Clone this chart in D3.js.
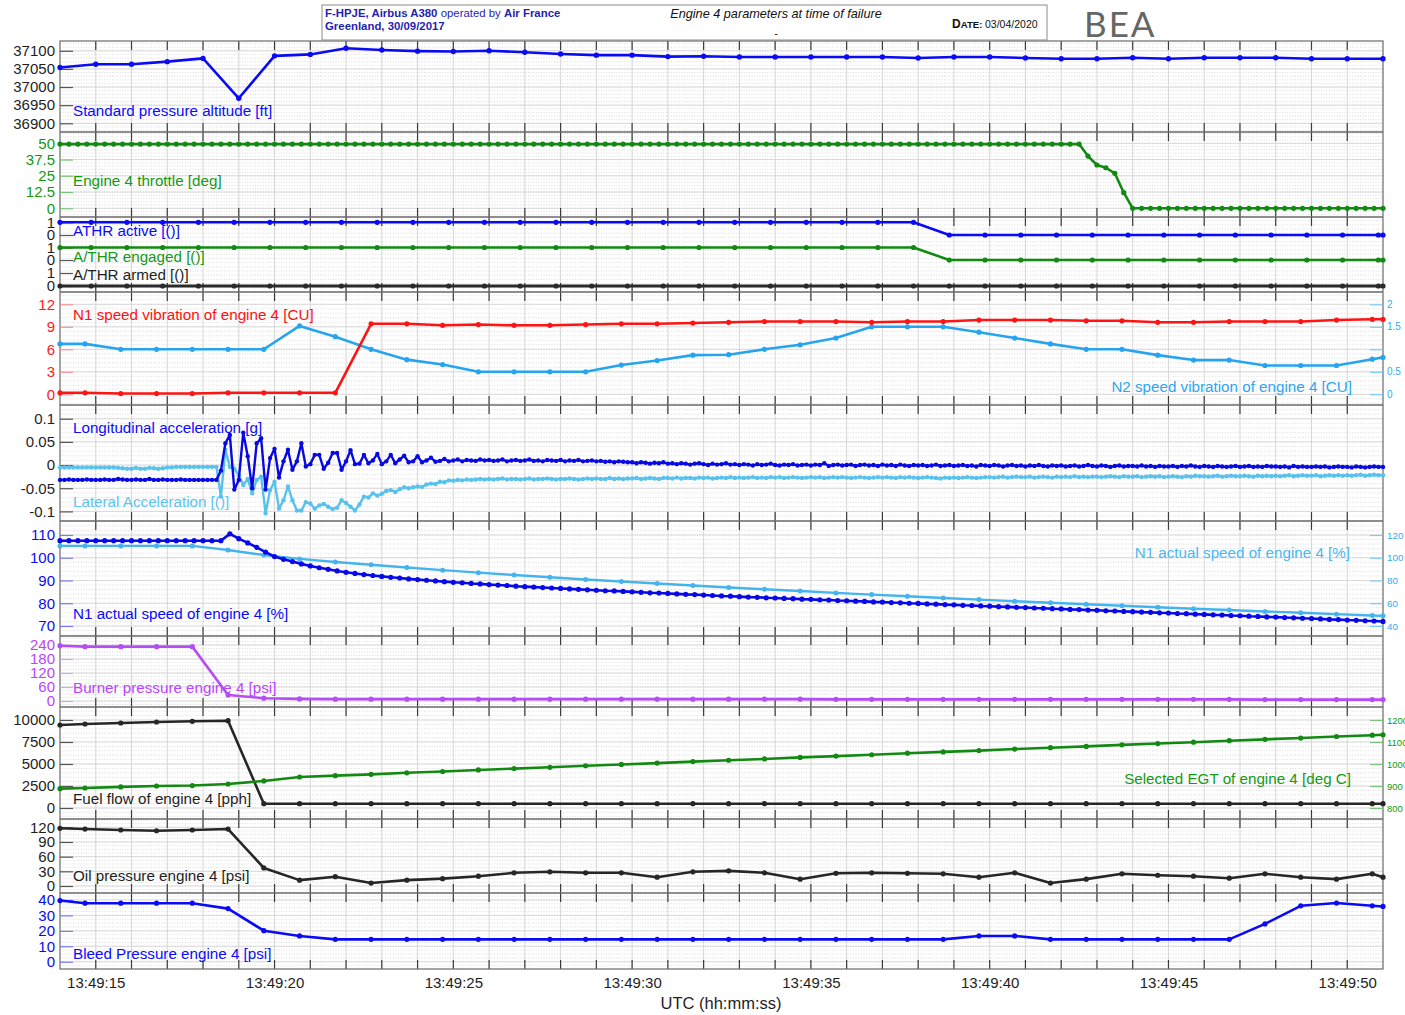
<!DOCTYPE html>
<html><head><meta charset="utf-8">
<script src="https://cdn.jsdelivr.net/npm/d3@7"></script>
<style>body{margin:0;background:#fff}svg{display:block}</style>
</head><body><svg id="c" width="1405" height="1015"></svg>
<script>
// ---------------- DATA ----------------
const xTickTimes=[15,20,25,30,35,40,45,50];
const xTickLabels=["13:49:15","13:49:20","13:49:25","13:49:30","13:49:35","13:49:40","13:49:45","13:49:50"];

const altTimes=[14,15,16,17,18,19,20,21,22,23,24,25,26,27,28,29,30,31,32,33,34,35,36,37,38,39,40,41,42,43,44,45,46,47,48,49,50,51];
const altitude=[37054,37063,37063,37070,37079,36969,37086,37090,37107,37102,37099,37098,37100,37096,37091,37088,37088,37084,37085,37083,37083,37083,37083,37083,37080,37083,37083,37080,37078,37078,37081,37078,37081,37081,37081,37078,37078,37078];
const altTicks=[36900,36950,37000,37050,37100];

// 4 Hz series (t = 14.00 ... 51.00)
const throttle=[
49.4,49.4,49.4,49.4,49.4,49.4,49.4,49.4,49.4,49.4,49.4,49.4,49.4,49.4,49.4,49.4,49.4,49.4,49.4,49.4,
49.4,49.4,49.4,49.4,49.4,49.4,49.4,49.4,49.4,49.4,49.4,49.4,49.4,49.4,49.4,49.4,49.4,49.4,49.4,49.4,
49.4,49.4,49.4,49.4,49.4,49.4,49.4,49.4,49.4,49.4,49.4,49.4,49.4,49.4,49.4,49.4,49.4,49.4,49.4,49.4,
49.4,49.4,49.4,49.4,49.4,49.4,49.4,49.4,49.4,49.4,49.4,49.4,49.4,49.4,49.4,49.4,49.4,49.4,49.4,49.4,
49.4,49.4,49.4,49.4,49.4,49.4,49.4,49.4,49.4,49.4,49.4,49.4,49.4,49.4,49.4,49.4,49.4,49.4,49.4,49.4,
49.4,49.4,49.4,49.4,49.4,49.4,49.4,49.4,49.4,49.4,49.4,49.4,49.4,49.4,49.4,
40.2,33.3,31.2,26.9,12.0,
0,0,0,0,0,0,0,0,0,0,0,0,0,0,0,0,0,0,0,0,0,0,0,0,0,0,0,0,0];
const throttleTicks=[0,12.5,25,37.5,50];

const n1Actual=[
107.5,107.5,107.5,107.5,107.5,107.5,107.5,107.5,107.5,107.5,107.5,107.5,107.5,107.5,107.5,107.5,107.5,107.5,107.5,
110.5,108.4,106.5,104.6,102.5,100.5,99.3,98.3,97.3,96.4,95.6,94.9,94.2,93.6,93.1,92.6,92.2,91.8,91.4,91.1,90.7,90.4,90.1,89.8,89.5,89.2,
89.0,88.7,88.5,88.2,88.0,87.8,87.5,87.3,87.1,86.9,86.7,86.5,86.3,86.1,85.9,85.7,
85.5,85.4,85.2,85.0,84.8,84.6,84.5,84.3,84.1,83.9,83.8,83.6,83.4,83.2,83.1,82.9,
82.7,82.6,82.4,82.3,82.1,82.0,81.8,81.7,81.5,81.4,81.2,81.1,80.9,80.8,80.6,80.5,
80.3,80.2,80.0,79.9,79.7,79.6,79.4,79.3,79.1,79.0,78.8,78.7,78.5,78.4,78.2,78.1,
77.9,77.8,77.6,77.5,77.3,77.2,77.0,76.9,76.7,76.6,76.4,76.3,76.1,76.0,75.8,75.7,
75.5,75.4,75.2,75.1,74.9,74.8,74.6,74.5,74.3,74.2,74.0,73.9,73.7,73.6,73.4,73.3,
73.1,72.9,72.8,72.6,72.5,72.3,72.2,72.0];
const n1Ticks=[70,80,90,100,110];
const n1RightTicks=[40,60,80,100,120];

// 8 Hz accelerations (one row per second, t = 14.000 ... 51.000)
const longAcc=[
-0.032,-0.032,-0.031,-0.032,-0.032,-0.032,-0.031,-0.032,
-0.032,-0.032,-0.031,-0.032,-0.032,-0.03,-0.031,-0.032,
-0.032,-0.031,-0.032,-0.032,-0.03,-0.032,-0.032,-0.031,
-0.032,-0.032,-0.032,-0.031,-0.032,-0.032,-0.032,-0.032,
-0.032,-0.032,-0.032,-0.032,-0.012,0.047,0.065,-0.053,
-0.032,0.07,0.019,-0.05,0.047,0.058,-0.053,0.015,
0.035,-0.027,0.008,0.033,-0.01,0.008,0.047,-0.003,
0.002,0.022,0.022,-0.008,0.005,0.026,0.026,-0.01,
0.008,0.032,0.002,0.003,0.022,0.004,0.01,0.024,
0.002,0.008,0.022,0.004,0.012,0.02,0.006,0.008,
0.019,0.006,0.01,0.016,0.007,0.009,0.013,0.008,
0.01,0.012,0.008,0.011,0.01,0.009,0.012,0.01,
0.011,0.009,0.01,0.012,0.008,0.01,0.011,0.009,
0.01,0.012,0.009,0.01,0.008,0.011,0.01,0.009,
0.011,0.008,0.01,0.009,0.011,0.008,0.009,0.01,
0.008,0.009,0.007,0.008,0.006,0.008,0.007,0.006,
0.006,0.004,0.006,0.005,0.003,0.005,0.004,0.006,
0.003,0.004,0.002,0.004,0.003,0.001,0.003,0.004,
0.002,0.0,0.003,0.001,0.002,0.004,0.001,0.002,
0.0,0.002,0.001,-0.001,0.002,0.0,0.001,0.003,
0.0,-0.001,0.001,0.0,0.002,-0.001,0.0,0.001,
-0.001,0.001,0.0,0.004,-0.002,0.0,0.001,-0.001,
0.0,0.001,-0.002,0.0,0.001,-0.001,0.0,-0.002,
0.001,-0.001,0.0,-0.002,0.001,-0.001,-0.002,0.0,
-0.001,0.0,-0.002,-0.001,0.001,-0.002,-0.001,0.0,
-0.002,-0.001,0.0,-0.002,-0.001,-0.003,0.0,-0.001,
-0.002,0.0,-0.001,-0.003,-0.001,0.0,-0.002,-0.001,
-0.003,-0.001,-0.002,0.0,-0.002,-0.003,-0.001,-0.002,
-0.001,-0.003,-0.002,-0.001,-0.003,-0.002,0.0,-0.002,
-0.003,-0.001,-0.002,-0.004,-0.002,-0.001,-0.003,-0.002,
-0.002,-0.003,-0.001,-0.003,-0.002,-0.004,-0.002,-0.003,
-0.003,-0.002,-0.004,-0.002,-0.003,-0.001,-0.003,-0.004,
-0.002,-0.003,-0.004,-0.002,-0.003,-0.004,-0.003,-0.002,
-0.004,-0.003,-0.002,-0.004,-0.003,-0.004,-0.002,-0.003,
-0.003,-0.004,-0.003,-0.005,-0.002,-0.004,-0.003,-0.004,
-0.004,-0.003,-0.004,-0.003,-0.005,-0.004,-0.003,-0.004,
-0.004,-0.005,-0.003,-0.004,-0.005,-0.004,-0.003,-0.004,
-0.004];
const latAcc=[
-0.005,-0.005,-0.005,-0.005,-0.005,-0.005,-0.005,-0.005,
-0.005,-0.005,-0.005,-0.005,-0.005,-0.006,-0.007,-0.008,
-0.008,-0.006,-0.008,-0.008,-0.006,-0.007,-0.008,-0.007,
-0.005,-0.005,-0.004,-0.004,-0.004,-0.004,-0.004,-0.004,
-0.004,-0.004,-0.004,-0.004,-0.068,0.033,-0.004,-0.008,
-0.022,-0.043,-0.03,-0.061,-0.032,-0.025,-0.104,-0.054,
-0.036,-0.094,-0.076,-0.046,-0.076,-0.098,-0.098,-0.08,
-0.083,-0.094,-0.087,-0.084,-0.09,-0.095,-0.092,-0.076,
-0.082,-0.09,-0.098,-0.085,-0.068,-0.07,-0.061,-0.066,
-0.062,-0.056,-0.054,-0.058,-0.052,-0.048,-0.05,-0.048,
-0.046,-0.047,-0.042,-0.04,-0.041,-0.036,-0.037,-0.033,
-0.034,-0.032,-0.033,-0.031,-0.032,-0.031,-0.03,-0.031,
-0.03,-0.031,-0.03,-0.029,-0.031,-0.03,-0.03,-0.031,
-0.03,-0.029,-0.031,-0.03,-0.03,-0.029,-0.03,-0.031,
-0.03,-0.03,-0.029,-0.03,-0.031,-0.03,-0.029,-0.03,
-0.029,-0.03,-0.03,-0.028,-0.03,-0.029,-0.03,-0.029,
-0.029,-0.028,-0.03,-0.029,-0.028,-0.029,-0.03,-0.028,
-0.028,-0.029,-0.027,-0.029,-0.028,-0.028,-0.029,-0.027,
-0.028,-0.027,-0.029,-0.028,-0.027,-0.028,-0.026,-0.028,
-0.027,-0.028,-0.027,-0.026,-0.028,-0.027,-0.028,-0.026,
-0.027,-0.026,-0.028,-0.027,-0.026,-0.027,-0.028,-0.027,
-0.026,-0.027,-0.026,-0.028,-0.027,-0.026,-0.027,-0.026,
-0.027,-0.028,-0.027,-0.026,-0.027,-0.028,-0.027,-0.026,
-0.027,-0.026,-0.027,-0.028,-0.026,-0.027,-0.026,-0.027,
-0.028,-0.027,-0.026,-0.027,-0.028,-0.029,-0.027,-0.028,
-0.027,-0.028,-0.027,-0.026,-0.027,-0.028,-0.027,-0.026,
-0.026,-0.027,-0.026,-0.025,-0.027,-0.026,-0.025,-0.026,
-0.026,-0.025,-0.027,-0.026,-0.025,-0.026,-0.027,-0.025,
-0.026,-0.025,-0.026,-0.024,-0.026,-0.025,-0.026,-0.025,
-0.025,-0.026,-0.025,-0.024,-0.025,-0.026,-0.024,-0.025,
-0.025,-0.024,-0.026,-0.025,-0.024,-0.025,-0.024,-0.026,
-0.025,-0.024,-0.025,-0.026,-0.024,-0.025,-0.023,-0.024,
-0.024,-0.025,-0.024,-0.023,-0.025,-0.024,-0.023,-0.024,
-0.024,-0.023,-0.024,-0.025,-0.023,-0.024,-0.023,-0.024,
-0.023,-0.024,-0.023,-0.022,-0.024,-0.023,-0.022,-0.023,
-0.023,-0.022,-0.024,-0.023,-0.022,-0.023,-0.022,-0.023,
-0.022,-0.023,-0.022,-0.021,-0.023,-0.022,-0.021,-0.022,
-0.022];
const accTicks=[-0.1,-0.05,0,0.05,0.1];

// discrete parameters (1 Hz)
const discTimes=[14,14.87,15.87,16.87,17.87,18.87,19.87,20.87,21.87,22.87,23.87,24.87,25.87,26.87,27.87,28.87,29.87,30.87,31.87,32.87,33.87,34.87,35.87,36.87,37.87,38.87,39.87,40.87,41.87,42.87,43.87,44.87,45.87,46.87,47.87,48.87,49.87,50.87,51];
const athrActive=[1,1,1,1,1,1,1,1,1,1,1,1,1,1,1,1,1,1,1,1,1,1,1,1,1,0,0,0,0,0,0,0,0,0,0,0,0,0,0];
const athrEngaged=[1,1,1,1,1,1,1,1,1,1,1,1,1,1,1,1,1,1,1,1,1,1,1,1,1,0,0,0,0,0,0,0,0,0,0,0,0,0,0];
const athrArmed=[0,0,0,0,0,0,0,0,0,0,0,0,0,0,0,0,0,0,0,0,0,0,0,0,0,0,0,0,0,0,0,0,0,0,0,0,0,0,0];

// 1 Hz engine parameters
const slowTimes=[14,14.7,15.7,16.7,17.7,18.7,19.7,20.7,21.7,22.7,23.7,24.7,25.7,26.7,27.7,28.7,29.7,30.7,31.7,32.7,33.7,34.7,35.7,36.7,37.7,38.7,39.7,40.7,41.7,42.7,43.7,44.7,45.7,46.7,47.7,48.7,49.7,50.7,51];
const n1Vib=[0.2,0.2,0.1,0.1,0.1,0.2,0.2,0.2,0.2,9.4,9.4,9.2,9.3,9.2,9.2,9.3,9.4,9.4,9.5,9.6,9.7,9.7,9.7,9.6,9.7,9.7,9.9,9.9,9.9,9.8,9.8,9.6,9.6,9.7,9.7,9.7,9.9,10.0,10.0];
const n2Vib=[1.12,1.12,1.0,1.0,1.0,1.0,1.0,1.52,1.28,1.0,0.77,0.66,0.5,0.5,0.5,0.5,0.65,0.75,0.87,0.88,1.0,1.1,1.25,1.5,1.5,1.5,1.38,1.25,1.12,1.0,1.0,0.87,0.76,0.76,0.64,0.64,0.64,0.78,0.82];
const vibTicks=[0,3,6,9,12];
const vibRightTicks=[0,0.5,1,1.5,2];
const vibRightLabels=["0","0.5","","1.5","2"];
const n1ActualRight=[110.4,110.4,110.4,110.4,110.4,106.8,102.4,99,96.3,93.8,91.4,89.1,86.9,84.8,82.8,80.9,79.1,77.3,75.6,73.9,72.3,70.7,69.1,67.6,66.1,64.6,63.2,61.8,60.4,59.1,57.8,56.5,55.2,54,52.8,51.6,50.4,49.2,48.9];
const burner=[237,233,233,233,233,26,12,9,8,8,8,8,8,8,8,8,8,8,8,8,8,8,7,7,7,7,7,7,7,7,7,7,7,7,6,6,6,6,6];
const burnerTicks=[0,60,120,180,240];
const fuelFlow=[9430,9545,9660,9770,9850,9920,490,490,490,490,490,490,490,490,490,490,490,490,490,490,490,490,490,490,490,490,490,490,490,490,490,490,490,490,490,490,490,490,490];
const fuelTicks=[0,2500,5000,7500,10000];
const egt=[888,891,896,900,902,909,923,941,947,953,960,966,973,979,985,992,998,1004,1011,1017,1023,1030,1036,1042,1049,1055,1061,1068,1074,1080,1087,1093,1099,1106,1112,1118,1125,1131,1133];
const egtTicks=[800,900,1000,1100,1200];
const oilPress=[118,116.5,114.5,113,114.5,116.5,37,12,19,6,12,15,20,27,29,27,27,18,29,31,27,14,26,27,26,25,18,27,6,14,25,22,20,16,25,18,14,25,18];
const oilTicks=[0,30,60,90,120];
const bleedPress=[39.6,37.9,37.9,37.9,37.9,34.4,20.1,16.7,14.5,14.5,14.5,14.5,14.5,14.5,14.5,14.5,14.5,14.5,14.5,14.5,14.5,14.5,14.5,14.5,14.5,14.5,16.7,16.7,14.5,14.5,14.5,14.5,14.5,14.5,24.5,36.2,38,36.2,35.8];
const bleedTicks=[0,10,20,30,40];

// ---------------- DRAWING ----------------
const FONT='"Liberation Sans", Arial, Helvetica, sans-serif';
const svg=d3.select('#c');
svg.append('rect').attr('width',1405).attr('height',1015).attr('fill','#fff');
const X0=60,X1=1383,YT=41,YB=969;
const x=d3.scaleLinear().domain([14,51]).range([X0,X1]);
const fastTimes=d3.range(throttle.length).map(i=>14+i*0.25);
const accTimes=d3.range(longAcc.length).map(i=>14+i*0.125);

const C={blue:'#0a0af5',green:'#128a12',red:'#ff1414',lb:'#27a4ef',lb2:'#58c2ec',purple:'#b64cf4',black:'#262626'};

const P=[
 {t:41,b:132,s:d3.scaleLinear().domain([36876,37127]).range([132,41]),minor:10},
 {t:132,b:217,s:d3.scaleLinear().domain([-6.7,58.7]).range([217,132]),minor:2.5},
 {t:217,b:292,s:d3.scaleLinear().domain([0,75]).range([292,217]),minor:4.2},
 {t:292,b:405,s:d3.scaleLinear().domain([-1.43,13.64]).range([405,292]),minor:0.6},
 {t:405,b:521,s:d3.scaleLinear().domain([-0.1207,0.1296]).range([521,405]),minor:0.01},
 {t:521,b:636,s:d3.scaleLinear().domain([65.6,116.15]).range([636,521]),minor:2},
 {t:636,b:707,s:d3.scaleLinear().domain([-25.7,278.6]).range([707,636]),minor:15},
 {t:707,b:819,s:d3.scaleLinear().domain([-1250,11477]).range([819,707]),minor:500},
 {t:819,b:893,s:d3.scaleLinear().domain([-14.3,137]).range([893,819]),minor:7.5},
 {t:893,b:969,s:d3.scaleLinear().domain([-4.7,44.5]).range([969,893]),minor:2.5}
];
const majors=[altTicks,throttleTicks,[],vibTicks,accTicks,n1Ticks,burnerTicks,fuelTicks,oilTicks,bleedTicks];

const grid=svg.append('g');
P.forEach((p,i)=>{
  const d=p.s.domain();
  const vals=d3.range(Math.ceil(d[0]/p.minor)*p.minor,d[1],p.minor);
  grid.selectAll(null).data(vals).enter().append('line')
    .attr('x1',X0).attr('x2',X1).attr('y1',v=>p.s(v)).attr('y2',v=>p.s(v))
    .attr('stroke','#c4c4c4').attr('stroke-width',0.6).attr('stroke-dasharray','1,1.6');
  grid.selectAll(null).data(majors[i]).enter().append('line')
    .attr('x1',X0).attr('x2',X1).attr('y1',v=>p.s(v)).attr('y2',v=>p.s(v))
    .attr('stroke','#d6d6d6').attr('stroke-width',0.9);
});
const secs=d3.range(15,51);
grid.selectAll(null).data(secs).enter().append('line')
  .attr('x1',d=>x(d)).attr('x2',d=>x(d)).attr('y1',YT).attr('y2',YB)
  .attr('stroke','#d2d2d2').attr('stroke-width',0.9);
P.forEach(p=>{
  grid.selectAll(null).data(secs).enter().append('line')
    .attr('x1',d=>x(d)).attr('x2',d=>x(d)).attr('y1',p.t).attr('y2',p.t+9)
    .attr('stroke','#3a3a3a').attr('stroke-width',1.2);
  grid.selectAll(null).data(secs).enter().append('line')
    .attr('x1',d=>x(d)).attr('x2',d=>x(d)).attr('y1',p.b-9).attr('y2',p.b)
    .attr('stroke','#3a3a3a').attr('stroke-width',1.2);
});
grid.selectAll(null).data(P.slice(1)).enter().append('line')
  .attr('x1',X0).attr('x2',X1).attr('y1',p=>p.t).attr('y2',p=>p.t)
  .attr('stroke','#6a6a6a').attr('stroke-width',1.3);
grid.append('rect').attr('x',X0).attr('y',YT).attr('width',X1-X0).attr('height',YB-YT)
  .attr('fill','none').attr('stroke','#6a6a6a').attr('stroke-width',1.2);

function leftAxis(scale,ticks,color,tickColor,fmt){
  const ax=d3.axisLeft(scale).tickValues(ticks).tickSize(-13).tickPadding(5)
    .tickFormat(fmt||(d=>String(d)));
  const g=svg.append('g').attr('transform',`translate(${X0},0)`).call(ax)
    .attr('font-family',FONT).attr('font-size',15);
  g.select('.domain').remove();
  g.selectAll('.tick line').attr('stroke',tickColor).attr('stroke-width',1.2);
  g.selectAll('.tick text').attr('fill',color);
}
function rightAxis(scale,ticks,color,tickColor,labels,fs){
  const ax=d3.axisRight(scale).tickValues(ticks).tickSize(-13).tickPadding(4)
    .tickFormat((d,i)=>labels?labels[i]:String(d));
  const g=svg.append('g').attr('transform',`translate(${X1},0)`).call(ax)
    .attr('font-family',FONT).attr('font-size',fs||9.8);
  g.select('.domain').remove();
  g.selectAll('.tick line').attr('stroke',tickColor).attr('stroke-width',1.2);
  g.selectAll('.tick text').attr('fill',color);
}

const yAlt=P[0].s, yThr=P[1].s, yVib=P[3].s, yAcc=P[4].s, yN1=P[5].s, yBur=P[6].s, yFuel=P[7].s, yOil=P[8].s, yBleed=P[9].s;
const yActive=d3.scaleLinear().domain([0,1]).range([235,222.3]);
const yEng=d3.scaleLinear().domain([0,1]).range([260,247.5]);
const yArm=d3.scaleLinear().domain([0,1]).range([286,273]);
const yVibR=d3.scaleLinear().domain([-1.43/6,13.64/6]).range([405,292]);
const yN1R=d3.scaleLinear().domain([2*65.6-100,2*116.15-100]).range([636,521]);
const yEgt=d3.scaleLinear().domain([800-1250/25,800+11477/25]).range([819,707]);

leftAxis(yAlt,altTicks,'#1e1e1e','#555');
leftAxis(yThr,throttleTicks,'#129a12','#7cc27c');
leftAxis(yActive,[0,1],'#1e1e1e','#555');
leftAxis(yEng,[0,1],'#1e1e1e','#555');
leftAxis(yArm,[0,1],'#1e1e1e','#555');
leftAxis(yVib,vibTicks,'#ff1a1a','#ff9090');
leftAxis(yAcc,accTicks,'#1e1e1e','#555',d=>d===0?'0':String(d));
leftAxis(yN1,n1Ticks,'#0a0af5','#7a7af5');
leftAxis(yBur,burnerTicks,'#bb44ff','#d9a0ff');
leftAxis(yFuel,fuelTicks,'#1e1e1e','#555');
leftAxis(yOil,oilTicks,'#1e1e1e','#555');
leftAxis(yBleed,bleedTicks,'#0a0af5','#7a7af5');
rightAxis(yVibR,vibRightTicks,'#36aaf0','#7fcaf5',vibRightLabels,10);
rightAxis(yN1R,n1RightTicks,'#36aaf0','#7fcaf5');
rightAxis(yEgt,egtTicks,'#129a12','#7cc27c',null,9.5);

const xa=d3.axisBottom(x).tickValues(xTickTimes).tickSize(0).tickPadding(8).tickFormat((d,i)=>xTickLabels[i]);
const xg=svg.append('g').attr('transform',`translate(0,${YB})`).call(xa).attr('font-family',FONT).attr('font-size',15);
xg.select('.domain').remove();
xg.selectAll('.tick text').attr('fill','#1e1e1e');
svg.append('text').attr('x',721).attr('y',1009).attr('text-anchor','middle').attr('font-family',FONT)
  .attr('font-size',16.5).attr('fill','#1e1e1e').text('UTC (hh:mm:ss)');

const marks=svg.append('g');
function series(ts,vs,ys,color,w,r){
  const pts=ts.map((t,i)=>[t,vs[i]]);
  marks.append('path').datum(pts).attr('fill','none').attr('stroke',color).attr('stroke-width',w)
    .attr('stroke-linejoin','round').attr('d',d3.line().x(d=>x(d[0])).y(d=>ys(d[1])));
  marks.selectAll(null).data(pts).enter().append('circle')
    .attr('cx',d=>x(d[0])).attr('cy',d=>ys(d[1])).attr('r',r).attr('fill',color);
}
series(altTimes,altitude,yAlt,C.blue,2.6,2.7);
series(fastTimes,throttle,yThr,C.green,2.6,2.6);
series(discTimes,athrArmed,yArm,'#2a2a2a',2.8,2.6);
series(discTimes,athrEngaged,yEng,C.green,2.6,2.6);
series(discTimes,athrActive,yActive,C.blue,2.6,2.6);
series(slowTimes,n2Vib,yVibR,C.lb,2.6,2.6);
series(slowTimes,n1Vib,yVib,C.red,2.6,2.6);
series(accTimes,latAcc,yAcc,C.lb2,2.4,2.2);
series(accTimes,longAcc,yAcc,'#0808e0',2.4,2.2);
series(slowTimes,n1ActualRight,yN1R,'#44b4ee',2.4,2.5);
series(fastTimes,n1Actual,yN1,'#0808e8',2.6,2.6);
series(slowTimes,burner,yBur,C.purple,2.6,2.6);
series(slowTimes,fuelFlow,yFuel,C.black,2.6,2.6);
series(slowTimes,egt,yEgt,C.green,2.6,2.6);
series(slowTimes,oilPress,yOil,C.black,2.6,2.6);
series(slowTimes,bleedPress,yBleed,C.blue,2.6,2.6);

const labels=[
 ['Standard pressure altitude [ft]',73,116,'start','#0a0aff'],
 ['Engine 4 throttle [deg]',73,186,'start','#149914'],
 ['ATHR active [()]',73,236,'start','#0a0aff'],
 ['A/THR engaged [()]',73,262,'start','#149914'],
 ['A/THR armed [()]',73,280,'start','#1e1e1e'],
 ['N1 speed vibration of engine 4 [CU]',73,320,'start','#ff1010'],
 ['N2 speed vibration of engine 4 [CU]',1352,392,'end','#2ea6f0'],
 ['Longitudinal acceleration [g]',73,433,'start','#0a0aff'],
 ['Lateral Acceleration [()]',73,507,'start','#5cc4f0'],
 ['N1 actual speed of engine 4 [%]',1350,558,'end','#4ab8f0'],
 ['N1 actual speed of engine 4 [%]',73,619,'start','#0a0aff'],
 ['Burner pressure engine 4 [psi]',73,693,'start','#bb44ff'],
 ['Selected EGT of engine 4 [deg C]',1351,784,'end','#149914'],
 ['Fuel flow of engine 4 [pph]',73,804,'start','#1e1e1e'],
 ['Oil pressure engine 4 [psi]',73,881,'start','#1e1e1e'],
 ['Bleed Pressure engine 4 [psi]',73,959,'start','#0a0aff']
];
svg.append('g').selectAll(null).data(labels).enter().append('text')
  .attr('x',d=>d[1]).attr('y',d=>d[2]).attr('text-anchor',d=>d[3]).attr('fill',d=>d[4])
  .attr('font-family',FONT).attr('font-size',15.2).text(d=>d[0]);

const hd=svg.append('g').attr('font-family',FONT);
hd.append('rect').attr('x',322).attr('y',5).attr('width',725).attr('height',35).attr('fill','#fff').attr('stroke','#8c8c8c');
const t1=hd.append('text').attr('x',325).attr('y',17).attr('font-size',11.4).attr('fill','#1f1fb0');
t1.append('tspan').attr('font-weight','bold').text('F-HPJE, Airbus A380');
t1.append('tspan').text(' operated by ');
t1.append('tspan').attr('font-weight','bold').text('Air France');
hd.append('text').attr('x',325).attr('y',30).attr('font-size',11.4).attr('fill','#1f1fb0').attr('font-weight','bold').text('Greenland, 30/09/2017');
hd.append('text').attr('x',776).attr('y',18).attr('text-anchor','middle').attr('font-size',12.7).attr('font-style','italic').attr('fill','#111').text('Engine 4 parameters at time of failure');
hd.append('text').attr('x',776).attr('y',37).attr('text-anchor','middle').attr('font-size',11).attr('fill','#111').text('-');
const dt=hd.append('text').attr('x',952).attr('y',28).attr('fill','#111');
dt.append('tspan').attr('font-weight','bold').attr('font-size',12).text('D');
dt.append('tspan').attr('font-weight','bold').attr('font-size',9.6).text('ATE: ');
dt.append('tspan').attr('font-size',10.5).text('03/04/2020');
svg.append('text').attr('x',1084).attr('y',37).attr('font-family','Lato, "Open Sans", sans-serif').attr('font-weight',400)
  .attr('font-size',35).attr('fill','#666').attr('letter-spacing',2).text('BEA');
</script></body></html>
